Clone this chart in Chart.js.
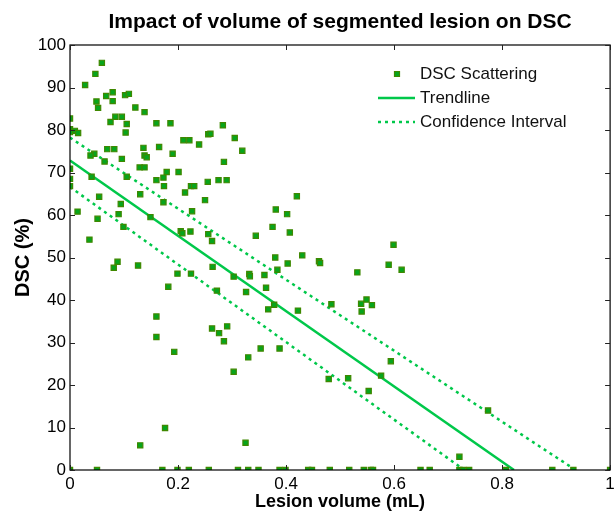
<!DOCTYPE html>
<html>
<head>
<meta charset="utf-8">
<script src="https://cdn.jsdelivr.net/npm/chart.js@4/dist/chart.umd.min.js"></script>
<style>
html,body{margin:0;padding:0;background:#fff;}
#wrap{width:615px;height:514px;}
</style>
</head>
<body>
<div id="wrap"><canvas id="c" width="615" height="514"></canvas></div>
<script>
// Lesion volume (mL) of each scattered point
const volumes = [
  0.059,0.047,0.028,0.067,0.079,0.079,0.102,0.109,0.049,0.052,0.121,0.138,0.000,0.075,0.084,0.096,0.105,0.103,
  0.160,0.186,0.000,0.009,0.015,0.000,0.210,0.221,0.239,0.256,0.136,0.165,0.069,0.082,0.045,0.038,0.138,0.142,
  0.096,0.190,0.064,0.129,0.138,0.201,0.179,0.000,0.040,0.105,0.160,0.173,0.174,0.224,0.230,0.255,0.000,0.000,
  0.283,0.260,0.305,0.319,0.285,0.275,0.290,
  0.054,0.094,0.090,0.130,0.173,0.014,0.051,0.099,0.149,0.213,0.250,0.226,0.205,0.208,0.223,0.256,0.036,0.088,
  0.081,0.126,0.199,0.224,0.182,0.160,
  0.420,0.381,0.402,0.375,0.407,0.344,0.263,0.380,0.430,0.403,0.461,0.463,0.264,0.384,0.303,0.332,0.333,0.360,
  0.272,0.363,0.326,0.378,0.367,0.422,0.484,0.263,0.291,
  0.599,0.532,0.590,0.614,0.539,0.540,0.549,0.559,
  0.160,0.193,0.276,0.285,0.303,0.330,0.353,0.388,0.479,0.176,0.130,0.325,
  0.594,0.576,0.515,0.553,0.774,0.721,
  0.000,0.050,0.171,0.199,0.220,0.257,0.311,0.330,0.349,0.388,0.399,0.441,0.448,0.481,0.517,0.544,0.557,0.561,
  0.649,0.666,0.721,0.728,0.739,0.807,0.893,0.932,1.000
];
// DSC (%) of each scattered point
const dscValues = [
  95.8,93.2,90.6,88.0,88.9,86.8,88.2,88.5,86.7,85.2,85.3,84.2,82.7,81.9,83.1,83.1,81.4,79.4,
  81.6,81.6,80.2,79.8,79.3,79.5,77.6,77.6,76.6,79.0,75.8,76.0,75.5,75.5,74.4,74.0,74.0,73.6,
  73.2,74.4,72.6,71.2,71.2,70.1,70.1,70.9,69.0,69.0,68.2,68.8,66.8,66.8,66.8,67.8,68.5,66.8,
  81.1,79.1,78.1,75.1,72.5,68.2,68.2,
  64.3,62.6,60.2,64.9,63.0,60.8,59.1,57.2,59.5,65.3,63.5,60.9,56.2,55.7,56.1,55.5,54.2,49.0,
  47.6,48.1,46.2,46.2,43.1,36.1,
  64.4,61.3,60.2,57.2,55.9,55.1,53.9,50.0,50.5,48.6,49.1,48.7,47.8,47.1,45.5,46.1,45.6,45.9,
  42.2,42.9,41.9,38.9,37.8,37.5,39.0,33.3,33.8,
  53.0,46.5,48.3,47.1,39.1,37.3,40.1,38.8,
  31.3,27.8,32.2,30.3,23.1,26.5,28.6,28.6,21.4,9.9,5.8,6.4,
  25.6,22.2,21.6,18.6,14.0,3.1,
  0,0,0,0,0,0,0,0,0,0,0,0,0,0,0,0,0,0,
  0,0,0,0,0,0,0,0,0
];
// Trendline and confidence interval end points (volume, DSC)
const trendVolume = [0, 0.822];
const trendDsc = [72.8, 0];
const ciUpperVolume = [0, 0.936];
const ciUpperDsc = [78.2, 0];
const ciLowerVolume = [0, 0.730];
const ciLowerDsc = [66.6, 0];

const xTicks = [0, 0.2, 0.4, 0.6, 0.8, 1];
const yTicks = [0, 10, 20, 30, 40, 50, 60, 70, 80, 90, 100];
const legendLabels = ['DSC Scattering', 'Trendline', 'Confidence Interval'];
const titleText = 'Impact of volume of segmented lesion on DSC';
const xTitle = 'Lesion volume (mL)';
const yTitle = 'DSC (%)';

const LINE = '#00c84a';
const FILL = '#06a51c';
const EDGE = '#3f8800';
const FONT = '"Liberation Sans", Arial, Helvetica, sans-serif';

const pts = volumes.map((v, i) => ({x: v, y: dscValues[i]}));
const toPts = (xs, ys) => xs.map((v, i) => ({x: v, y: ys[i]}));

const decor = {
  id: 'decor',
  afterDraw(chart) {
    const ctx = chart.ctx;
    const a = chart.chartArea;
    const xs = chart.scales.x, ys = chart.scales.y;
    ctx.save();
    ctx.strokeStyle = '#000';
    ctx.lineWidth = 1.2;
    ctx.strokeRect(a.left, a.top, a.right - a.left, a.bottom - a.top);
    ctx.lineWidth = 1;
    ctx.strokeStyle = '#222';
    const tl = 5;
    xTicks.forEach(t => {
      const px = Math.round(xs.getPixelForValue(t)) + 0.5;
      ctx.beginPath();
      ctx.moveTo(px, a.bottom); ctx.lineTo(px, a.bottom - tl);
      ctx.moveTo(px, a.top); ctx.lineTo(px, a.top + tl);
      ctx.stroke();
    });
    yTicks.forEach(t => {
      const py = Math.round(ys.getPixelForValue(t)) + 0.5;
      ctx.beginPath();
      ctx.moveTo(a.left, py); ctx.lineTo(a.left + tl, py);
      ctx.moveTo(a.right, py); ctx.lineTo(a.right - tl, py);
      ctx.stroke();
    });
    ctx.fillStyle = '#000';
    ctx.textAlign = 'center';
    ctx.textBaseline = 'middle';
    ctx.font = 'bold 21px ' + FONT;
    ctx.fillText(titleText, (a.left + a.right) / 2, 22);
    ctx.font = 'bold 18px ' + FONT;
    ctx.fillText(xTitle, (a.left + a.right) / 2, 502);
    ctx.font = 'bold 20px ' + FONT;
    ctx.save();
    ctx.translate(23, (a.top + a.bottom) / 2);
    ctx.rotate(-Math.PI / 2);
    ctx.fillText(yTitle, 0, 0);
    ctx.restore();
    // legend
    ctx.font = '17px ' + FONT;
    ctx.textAlign = 'left';
    const lx = 420;
    const rows = [74, 98, 122];
    ctx.fillStyle = FILL; ctx.strokeStyle = EDGE; ctx.lineWidth = 1.2;
    ctx.beginPath(); ctx.rect(394.5, 71.5, 5, 5); ctx.fill(); ctx.stroke();
    ctx.strokeStyle = LINE; ctx.lineWidth = 2.5;
    ctx.beginPath(); ctx.moveTo(378, rows[1]); ctx.lineTo(415, rows[1]); ctx.stroke();
    ctx.setLineDash([3, 4]);
    ctx.beginPath(); ctx.moveTo(378, rows[2]); ctx.lineTo(415, rows[2]); ctx.stroke();
    ctx.setLineDash([]);
    ctx.fillStyle = '#111';
    legendLabels.forEach((t, i) => ctx.fillText(t, lx, rows[i]));
    ctx.restore();
  }
};

new Chart(document.getElementById('c'), {
  type: 'scatter',
  data: {
    datasets: [
      {
        label: legendLabels[0], data: pts,
        pointStyle: 'rect', pointRadius: 3.7, pointHoverRadius: 3.7,
        backgroundColor: FILL, borderColor: EDGE, borderWidth: 1.2, showLine: false
      },
      {
        label: legendLabels[1], type: 'line', data: toPts(trendVolume, trendDsc),
        borderColor: LINE, borderWidth: 2.5, pointRadius: 0, fill: false
      },
      {
        label: legendLabels[2], type: 'line', data: toPts(ciUpperVolume, ciUpperDsc),
        borderColor: LINE, borderWidth: 2.5, borderDash: [3, 4], pointRadius: 0, fill: false
      },
      {
        label: legendLabels[2] + ' lower', type: 'line', data: toPts(ciLowerVolume, ciLowerDsc),
        borderColor: LINE, borderWidth: 2.5, borderDash: [3, 4], pointRadius: 0, fill: false
      }
    ]
  },
  options: {
    responsive: false,
    animation: false,
    events: [],
    layout: {padding: {left: 0, right: 4, top: 45, bottom: 0}},
    plugins: {legend: {display: false}, title: {display: false}, tooltip: {enabled: false}},
    scales: {
      x: {
        type: 'linear', min: 0, max: 1,
        afterBuildTicks: s => { s.ticks = xTicks.map(v => ({value: v})); },
        afterFit: s => { s.height = 44; s.paddingLeft = 0; s.paddingRight = 0; },
        grid: {display: false, drawTicks: false},
        border: {display: false},
        ticks: {color: '#000', padding: 4, font: {size: 17, family: FONT}, maxRotation: 0,
                callback: v => String(v)}
      },
      y: {
        type: 'linear', min: 0, max: 100,
        afterBuildTicks: s => { s.ticks = yTicks.map(v => ({value: v})); },
        afterFit: s => { s.width = 70; s.paddingTop = 0; s.paddingBottom = 0; },
        grid: {display: false, drawTicks: false},
        border: {display: false},
        ticks: {color: '#000', padding: 4, font: {size: 17, family: FONT}, callback: v => String(v)}
      }
    }
  },
  plugins: [decor]
});
</script>
</body>
</html>
